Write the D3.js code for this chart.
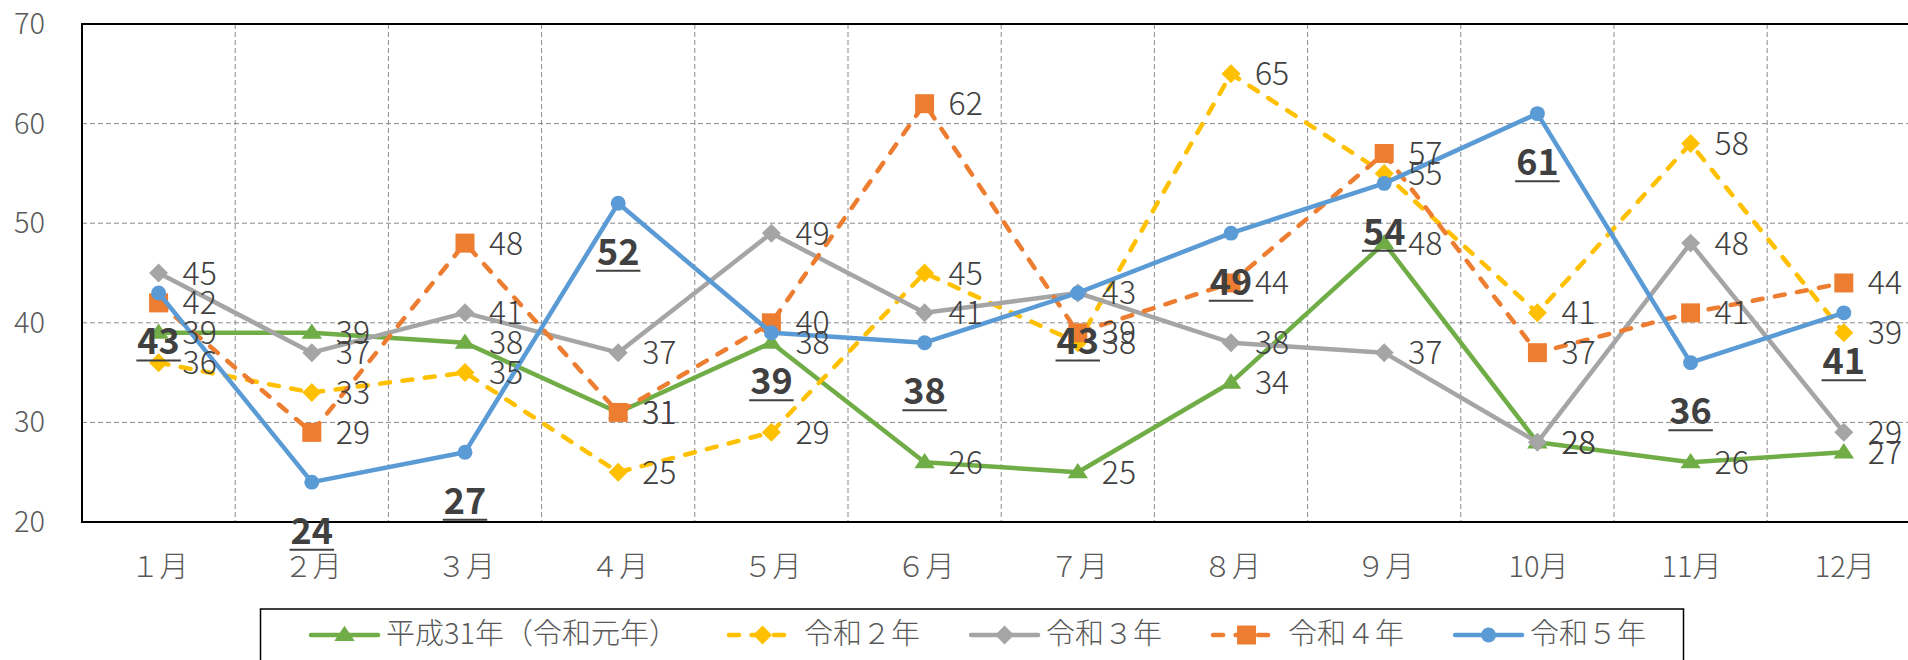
<!DOCTYPE html>
<html>
<head>
<meta charset="utf-8">
<script src="https://d3js.org/d3.v7.min.js"></script>
<style>
  body { margin: 0; background: #fff; }
  svg { display: block; font-family: "Noto Sans CJK JP", "Noto Sans", sans-serif; }
  .thin { font-weight: 300; }
</style>
</head>
<body>
<svg id="chart" width="1908" height="660"></svg>
<script>
// categories and values
const months = ["１月", "２月", "３月", "４月", "５月", "６月", "７月", "８月", "９月", "10月", "11月", "12月"];
const seriesNames = ["平成31年（令和元年）", "令和２年", "令和３年", "令和４年", "令和５年"];
const h31 = [39, 39, 38, 31, 38, 26, 25, 34, 48, 28, 26, 27];
const r2 = [36, 33, 35, 25, 29, 45, 38, 65, 55, 41, 58, 39];
const r3 = [45, 37, 41, 37, 49, 41, 43, 38, 37, 28, 48, 29];
const r4 = [42, 29, 48, 31, 40, 62, 39, 44, 57, 37, 41, 44];
const r5 = [43, 24, 27, 52, 39, 38, 43, 49, 54, 61, 36, 41];
const yTicks = [20, 30, 40, 50, 60, 70];

// look of each series
const styles = [
  { color: "#70AD47", marker: "triangle", dash: null },
  { color: "#FFC000", marker: "diamond", dash: "10,12.5" },
  { color: "#A5A5A5", marker: "diamond", dash: null },
  { color: "#ED7D31", marker: "square", dash: "10,12.5" },
  { color: "#5B9BD5", marker: "circle", dash: null }
];
const series = [h31, r2, r3, r4, r5].map((values, i) => ({ name: seriesNames[i], values, ...styles[i] }));

const svg = d3.select("#chart");
const margin = { left: 82, top: 24, bottom: 522 };
const plotRight = margin.left + 153.2 * 12;

const x = d3.scaleBand().domain(months).range([margin.left, plotRight]);
const y = d3.scaleLinear().domain([20, 70]).range([margin.bottom, margin.top]);

const markerPath = {
  triangle: d3.symbol().type(d3.symbolTriangle).size(150),
  diamond: d3.symbol().type(d3.symbolSquare).size(180),
  square: d3.symbol().type(d3.symbolSquare).size(360),
  circle: d3.symbol().type(d3.symbolCircle).size(175)
};
function drawMarker(g, s, cx, cy) {
  const p = g.append("path")
    .attr("d", markerPath[s.marker]())
    .attr("fill", s.color);
  if (s.marker === "diamond") p.attr("transform", `translate(${cx},${cy}) rotate(45)`);
  else if (s.marker === "triangle") p.attr("transform", `translate(${cx},${cy + 1}) scale(1.1,0.95)`);
  else p.attr("transform", `translate(${cx},${cy})`);
}

// grid
const grid = svg.append("g").attr("stroke", "#8a8a8a").attr("stroke-width", 1).attr("stroke-dasharray", "5,3");
grid.selectAll("line.h").data(yTicks.slice(1, -1)).join("line")
  .attr("x1", margin.left).attr("x2", plotRight)
  .attr("y1", d => y(d)).attr("y2", d => y(d));
grid.selectAll("line.v").data(months.slice(1)).join("line")
  .attr("x1", d => x(d)).attr("x2", d => x(d))
  .attr("y1", margin.top).attr("y2", margin.bottom);

// plot border
svg.append("rect")
  .attr("x", margin.left).attr("y", margin.top)
  .attr("width", plotRight - margin.left).attr("height", margin.bottom - margin.top)
  .attr("fill", "none").attr("stroke", "#000").attr("stroke-width", 2);

// y axis labels
svg.append("g").attr("class", "thin").selectAll("text").data(yTicks).join("text")
  .attr("x", 45).attr("y", d => y(d) + 10)
  .attr("text-anchor", "end")
  .attr("font-size", 29).attr("fill", "#595959")
  .text(d => d);

// x axis labels
svg.append("g").attr("class", "thin").selectAll("text").data(months).join("text")
  .attr("x", d => x(d) + x.bandwidth() / 2 + 1).attr("y", 577)
  .attr("text-anchor", "middle")
  .attr("font-size", 29).attr("fill", "#595959")
  .text(d => d);

const cx = i => x(months[i]) + x.bandwidth() / 2;
const line = d3.line().x((d, i) => cx(i)).y(d => y(d));

// lines + markers
series.forEach(s => {
  const g = svg.append("g");
  g.append("path").datum(s.values)
    .attr("d", line)
    .attr("fill", "none")
    .attr("stroke", s.color)
    .attr("stroke-width", 4.5)
    .attr("stroke-linecap", "round")
    .attr("stroke-linejoin", "round")
    .attr("stroke-dasharray", s.dash);
  s.values.forEach((v, i) => drawMarker(g, s, cx(i), y(v)));
});

// data labels
series.forEach((s, si) => {
  const g = svg.append("g").attr("fill", "#404040");
  s.values.forEach((v, i) => {
    if (si < 4) {
      g.append("text")
        .attr("class", "thin")
        .attr("x", cx(i) + 24).attr("y", y(v) + 11.5)
        .attr("font-size", 32)
        .text(v);
    } else {
      const t = g.append("text")
        .attr("x", cx(i)).attr("y", y(v) + 61.5)
        .attr("text-anchor", "middle")
        .attr("font-size", 36).attr("font-weight", "bold")
        .text(v);
      const w = t.node().getComputedTextLength();
      g.append("line")
        .attr("x1", cx(i) - w / 2 - 1).attr("x2", cx(i) + w / 2 + 1)
        .attr("y1", y(v) + 67.5).attr("y2", y(v) + 67.5)
        .attr("stroke", "#404040").attr("stroke-width", 2);
    }
  });
});

// legend
svg.append("rect")
  .attr("x", 260.5).attr("y", 609)
  .attr("width", 1423).attr("height", 80)
  .attr("fill", "#fff").attr("stroke", "#000").attr("stroke-width", 1.5);

let lx = 309;
series.forEach(s => {
  const g = svg.append("g");
  g.append("line")
    .attr("x1", lx + 2).attr("x2", lx + 69)
    .attr("y1", 635).attr("y2", 635)
    .attr("stroke", s.color).attr("stroke-width", 4.5)
    .attr("stroke-linecap", "round")
    .attr("stroke-dasharray", s.dash);
  drawMarker(g, s, lx + 35.5, 635);
  const t = g.append("text")
    .attr("class", "thin")
    .attr("x", lx + 77).attr("y", 644)
    .attr("font-size", 29).attr("fill", "#595959")
    .text(s.name);
  lx = lx + 77 + t.node().getComputedTextLength() + 49;
});
</script>
</body>
</html>
